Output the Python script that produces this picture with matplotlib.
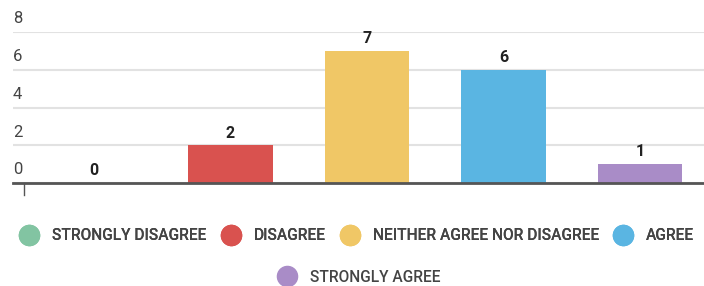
import matplotlib.pyplot as plt
from matplotlib.lines import Line2D

categories = ["STRONGLY DISAGREE", "DISAGREE", "NEITHER AGREE NOR DISAGREE", "AGREE", "STRONGLY AGREE"]
counts = [0, 2, 7, 6, 1]
colors = ["#82c4a2", "#d9524f", "#f0c766", "#5ab5e2", "#a98cc7"]
yticks = [0, 2, 4, 6, 8]

plt.rcParams['font.family'] = ['Roboto', 'DejaVu Sans']

fig = plt.figure(figsize=(7.04, 2.86), dpi=100)
ax = fig.add_axes([13/704, 103/286, 691/704, 151/286])

x = list(range(len(categories)))
ax.bar(x, counts, width=0.62, color=colors, zorder=2)
for xi, c in zip(x, counts):
    ax.text(xi, c + 0.25, str(c), ha='center', va='bottom', fontsize=11.5,
            fontweight='bold', color='#222222')

ax.set_xlim(-0.593, 4.47)
ax.set_ylim(0, 8)
for t in yticks:
    ax.axhline(t, color='#e2e2e2', lw=1.5, zorder=1)
    ax.text(0, t + 0.3, str(t), transform=ax.get_yaxis_transform(), ha='left',
            va='bottom', fontsize=12, color='#444444')

for s in ['top', 'right', 'left']:
    ax.spines[s].set_visible(False)
ax.spines['bottom'].set_color('#555555')
ax.spines['bottom'].set_linewidth(2)
ax.spines['bottom'].set_zorder(3)
ax.set_xticks([])
ax.set_yticks([])
ax.add_line(Line2D([0.016, 0.016], [0, -0.08], transform=ax.transAxes,
                   color='#555555', lw=1, clip_on=False))

handles = [Line2D([], [], ls='', marker='o', markersize=14.5, color=c) for c in colors]
leg_font = {'size': 11.2, 'weight': 'medium'}
leg1 = fig.legend(handles[:4], categories[:4], loc='center', ncol=4,
                  bbox_to_anchor=(357/704, 1 - 236/286), frameon=False,
                  prop=leg_font, labelcolor='#444444',
                  handletextpad=0.88, columnspacing=0.94, handlelength=1.2)
fig.add_artist(leg1)
fig.legend(handles[4:], categories[4:], loc='center', ncol=1,
           bbox_to_anchor=(359/704, 1 - 277/286), frameon=False,
           prop=leg_font, labelcolor='#444444',
           handletextpad=0.88, handlelength=1.2)

fig.savefig('out.png', dpi=100)
